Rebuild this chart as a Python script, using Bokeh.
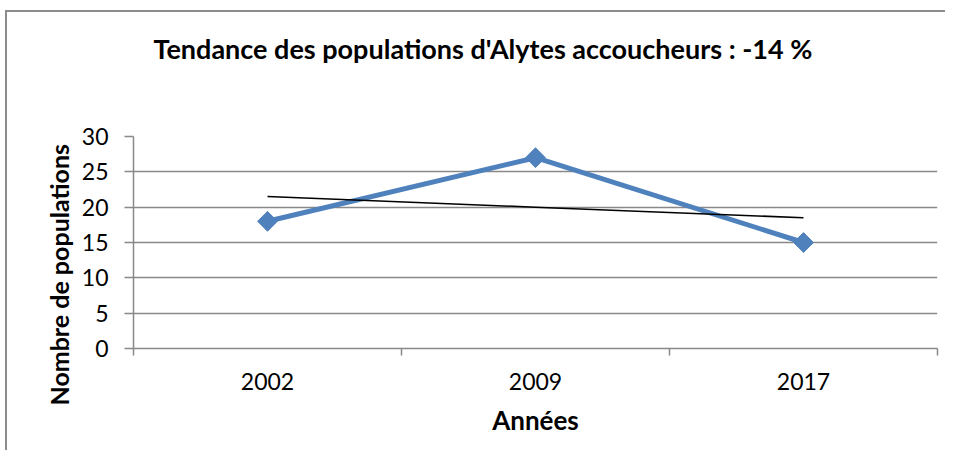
import numpy as np
from bokeh.plotting import figure
from bokeh.models import Range1d, FixedTicker, Title
from bokeh.embed import file_html
from bokeh.resources import INLINE
from math import pi

# ---- data ----
years = ["2002", "2009", "2017"]
populations = [18, 27, 15]
y_ticks = [0, 5, 10, 15, 20, 25, 30]
title_text = "Tendance des populations d'Alytes accoucheurs : -14 %"
x_title = "Années"
y_title = "Nombre de populations"

FONT = "Lato"
GRAY = "#898989"
BLUE = "#4F81BD"

idx = np.arange(len(years))
xs = idx + 0.5
slope, intercept = np.polyfit(idx, populations, 1)
trend = slope * idx + intercept

p = figure(frame_width=804, frame_height=212,
           min_border_left=126, min_border_right=10,
           min_border_top=124, min_border_bottom=104,
           x_range=Range1d(0, len(years)), y_range=Range1d(0, 30),
           output_backend="svg", toolbar_location=None)
p.styles = {"box-shadow": "-2px -2px 0px 0px #8c8c8c",
            "margin-left": "7px", "margin-top": "12px"}
p.outline_line_color = None
p.background_fill_color = "white"
p.border_fill_color = "white"

# x axis
xa = p.xaxis[0]
xa.ticker = FixedTicker(ticks=list(xs), minor_ticks=list(range(len(years) + 1)))
xa.major_label_overrides = {float(x): y for x, y in zip(xs, years)}
xa.major_tick_out = 0
xa.major_tick_in = 0
xa.minor_tick_out = 7
xa.minor_tick_in = 0
xa.minor_tick_line_color = GRAY
xa.minor_tick_line_width = 1.5
xa.axis_line_color = GRAY
xa.axis_line_width = 1.5
xa.major_label_text_font = FONT
xa.major_label_text_font_size = "23px"
xa.major_label_text_color = "black"
xa.major_label_standoff = 17
xa.axis_label = x_title
xa.axis_label_text_font = FONT
xa.axis_label_text_font_style = "bold"
xa.axis_label_text_font_size = "26px"
xa.axis_label_text_color = "black"
xa.axis_label_standoff = 11

# y axis
ya = p.yaxis[0]
ya.ticker = FixedTicker(ticks=y_ticks)
ya.major_tick_out = 9
ya.major_tick_in = 0
ya.minor_tick_out = 0
ya.minor_tick_in = 0
ya.major_tick_line_color = GRAY
ya.major_tick_line_width = 1.5
ya.axis_line_color = GRAY
ya.axis_line_width = 1.5
ya.major_label_text_font = FONT
ya.major_label_text_font_size = "23px"
ya.major_label_text_color = "black"
ya.major_label_standoff = 16

p.xgrid.visible = False
p.ygrid.ticker = FixedTicker(ticks=y_ticks)
p.ygrid.grid_line_color = GRAY
p.ygrid.grid_line_width = 1.5

# series
p.line(xs, populations, line_color=BLUE, line_width=5)
p.scatter(xs, populations, marker="square", size=14, angle=pi / 4,
          fill_color=BLUE, line_color=BLUE)
# trend line
p.line(xs, trend, line_color="black", line_width=1.5)

# titles: spacer (nearest the frame) then the chart title above it
p.add_layout(Title(text=" ", text_font_size="1px", standoff=64), "above")
p.add_layout(Title(text=title_text, text_font=FONT, text_font_style="bold",
                   text_font_size="27px", text_color="black",
                   align="left", offset=20, standoff=10), "above")
p.add_layout(Title(text=y_title, text_font=FONT, text_font_style="bold",
                   text_font_size="25px", text_color="black",
                   align="left", offset=-57, standoff=10), "left")

open("out.html", "w").write(file_html(p, INLINE))
